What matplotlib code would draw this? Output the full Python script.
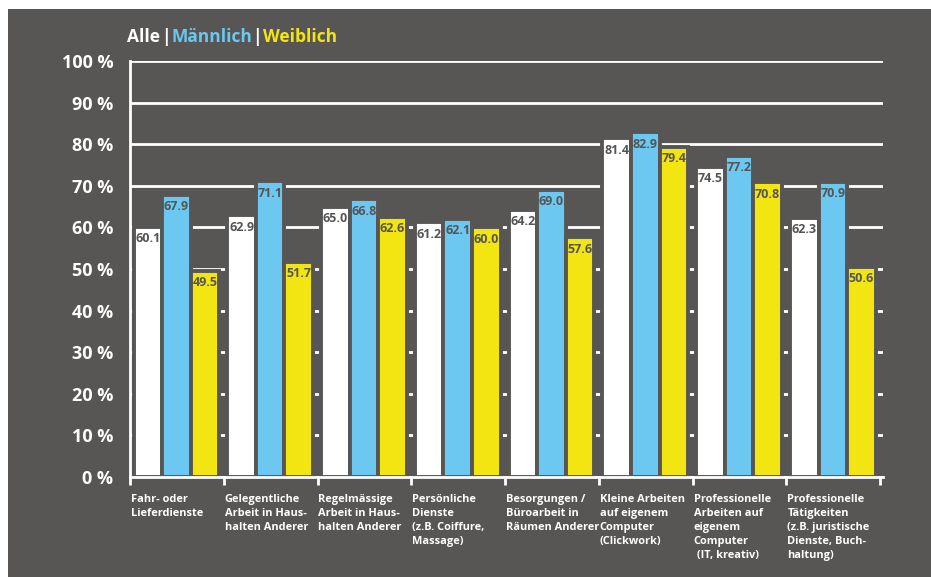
import matplotlib
matplotlib.use("Agg")
import matplotlib.pyplot as plt
from matplotlib.patches import Rectangle
import numpy as np

# --- data ---
categories = [
    "Fahr- oder\nLieferdienste",
    "Gelegentliche\nArbeit in Haus-\nhalten Anderer",
    "Regelmässige\nArbeit in Haus-\nhalten Anderer",
    "Persönliche\nDienste\n(z.B. Coiffure,\nMassage)",
    "Besorgungen /\nBüroarbeit in\nRäumen Anderer",
    "Kleine Arbeiten\nauf eigenem\nComputer\n(Clickwork)",
    "Professionelle\nArbeiten auf\neigenem\nComputer\n (IT, kreativ)",
    "Professionelle\nTätigkeiten\n(z.B. juristische\nDienste, Buch-\nhaltung)",
]
alle = [60.1, 62.9, 65.0, 61.2, 64.2, 81.4, 74.5, 62.3]
maennlich = [67.9, 71.1, 66.8, 62.1, 69.0, 82.9, 77.2, 70.9]
weiblich = [49.5, 51.7, 62.6, 60.0, 57.6, 79.4, 70.8, 50.6]
series_names = ["Alle", "Männlich", "Weiblich"]
yticks = list(range(0, 101, 10))

# --- style ---
BG = "#575654"
WHITE = "#ffffff"
BLUE = "#6cc8f0"
YELLOW = "#f3e512"
TXT_DARK = "#555555"
plt.rcParams["font.family"] = ["Open Sans", "DejaVu Sans"]
plt.rcParams["font.weight"] = "bold"

fig = plt.figure(figsize=(9.31, 5.77), dpi=100, facecolor="white")
fig.patches.append(Rectangle((8 / 931, 0), 1, 1 - 9 / 577, transform=fig.transFigure,
                             facecolor=BG, edgecolor="none", zorder=-10))
ax = fig.add_axes([130 / 931, 1 - 477 / 577, (883 - 130) / 931, 416 / 577])
ax.set_facecolor(BG)

x = np.arange(len(categories))
offsets = [-0.31, -0.005, 0.30]
width = 0.305
for vals, color, off in zip([alle, maennlich, weiblich], [WHITE, BLUE, YELLOW], offsets):
    bars = ax.bar(x + off, vals, width=width, color=color, edgecolor=BG, linewidth=2.8, zorder=3)
    for b, v in zip(bars, vals):
        ax.text(b.get_x() + b.get_width() / 2, v - 1.3, f"{v:.1f}", ha="center", va="top",
                fontsize=9, color=TXT_DARK, fontweight="bold", zorder=4)

ax.set_ylim(0, 100)
ax.set_xlim(-0.5, 7.53)
ax.set_yticks(yticks)
ax.set_yticklabels([f"{t} %" for t in yticks], color=WHITE, fontsize=13, fontweight="bold")
ax.tick_params(axis="y", length=0, pad=12)
ax.set_xticks(np.arange(-0.5, 8.0, 1.0))
ax.set_xticklabels([])
ax.tick_params(axis="x", length=6, width=2, color=WHITE, direction="out")
ax.yaxis.grid(True, color=WHITE, linewidth=2, zorder=1)
ax.set_axisbelow(True)
for s in ["top", "right"]:
    ax.spines[s].set_visible(False)
for s in ["left", "bottom"]:
    ax.spines[s].set_color(WHITE)
    ax.spines[s].set_linewidth(2)
    ax.spines[s].set_zorder(5)

# category labels below the axis
for i, lab in enumerate(categories):
    ax.text(i - 0.49, -0.042, lab, transform=ax.get_xaxis_transform(), ha="left", va="top",
            fontsize=7.9, color=WHITE, fontweight="bold", linespacing=1.36)

# legend header
hdr = dict(fontsize=12.5, fontweight="bold", va="bottom")
t1 = fig.text(127 / 931, 1 - 46 / 577, series_names[0], color=WHITE, **hdr)
t2 = ax.annotate("|", xy=(1, 0), xycoords=t1, xytext=(0.5, 0), textcoords="offset points",
                 color=WHITE, **hdr)
t3 = ax.annotate(series_names[1], xy=(1, 0), xycoords=t2, xytext=(0.5, 0), textcoords="offset points",
                 color=BLUE, **hdr)
t4 = ax.annotate("|", xy=(1, 0), xycoords=t3, xytext=(0.5, 0), textcoords="offset points",
                 color=WHITE, **hdr)
ax.annotate(series_names[2], xy=(1, 0), xycoords=t4, xytext=(0.5, 0), textcoords="offset points",
            color=YELLOW, **hdr)

fig.savefig("out.png", dpi=100, facecolor="white")
